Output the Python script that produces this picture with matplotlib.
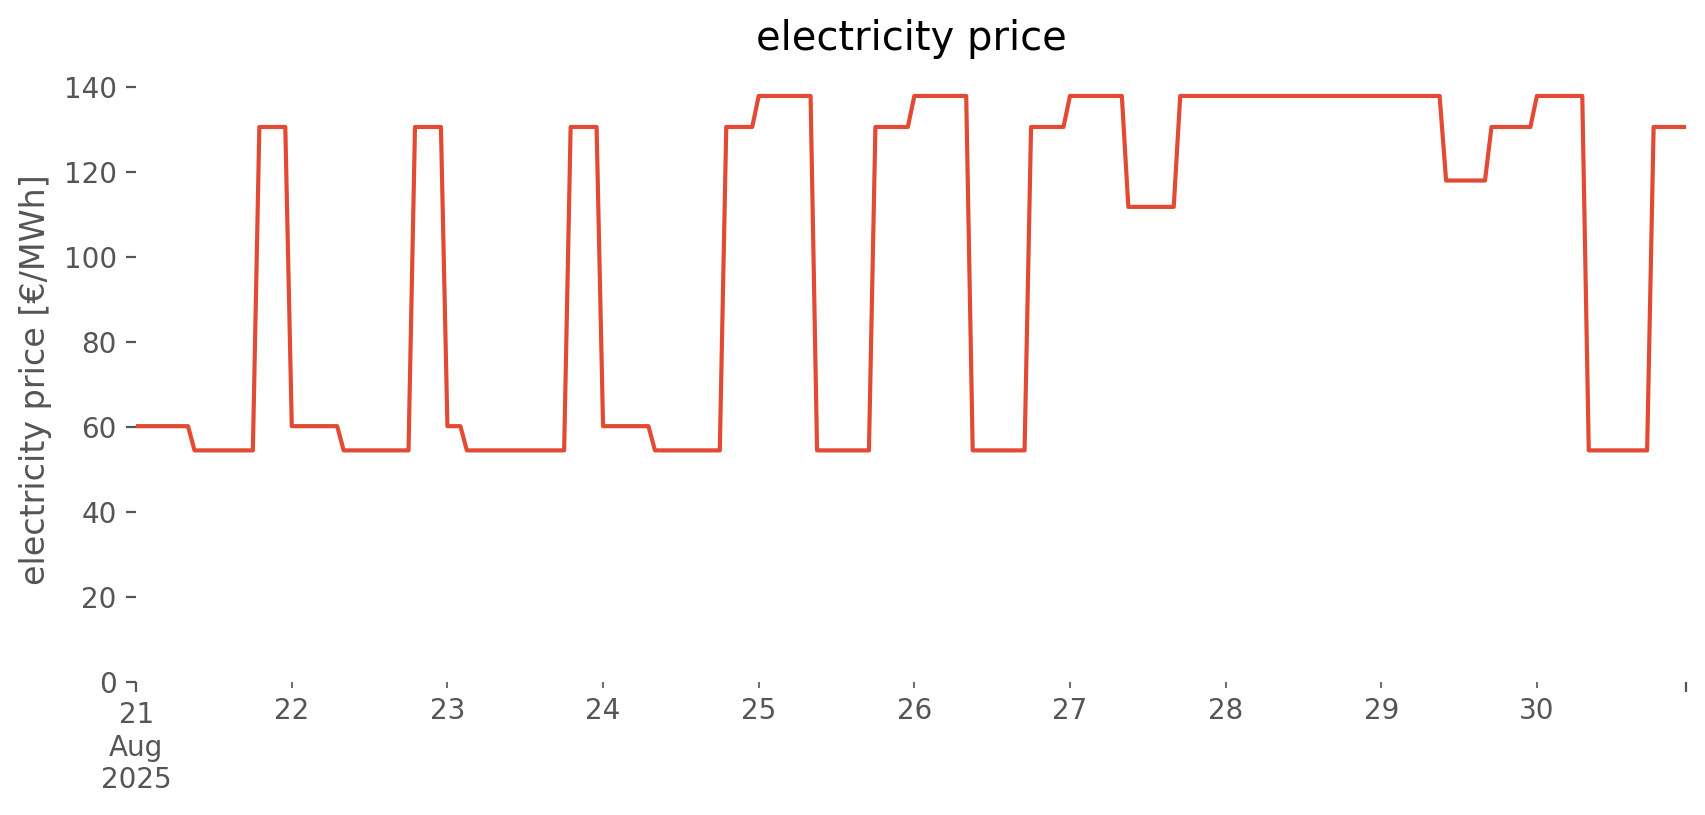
"""Electricity price over ten days, hourly resolution."""
import matplotlib
matplotlib.use("Agg")
import pandas as pd
from matplotlib import pyplot as plt

plt.style.use("ggplot")

# Hourly prices [EUR/MWh], one list per day (00:00 .. 23:00)
first_hour = "2025-08-21 00:00"
day_21 = [60.2, 60.2, 60.2, 60.2, 60.2, 60.2, 60.2, 60.2, 60.2, 54.5, 54.5, 54.5,
          54.5, 54.5, 54.5, 54.5, 54.5, 54.5, 54.5, 130.6, 130.6, 130.6, 130.6, 130.6]
day_22 = [60.2, 60.2, 60.2, 60.2, 60.2, 60.2, 60.2, 60.2, 54.5, 54.5, 54.5, 54.5,
          54.5, 54.5, 54.5, 54.5, 54.5, 54.5, 54.5, 130.6, 130.6, 130.6, 130.6, 130.6]
day_23 = [60.2, 60.2, 60.2, 54.5, 54.5, 54.5, 54.5, 54.5, 54.5, 54.5, 54.5, 54.5,
          54.5, 54.5, 54.5, 54.5, 54.5, 54.5, 54.5, 130.6, 130.6, 130.6, 130.6, 130.6]
day_24 = [60.2, 60.2, 60.2, 60.2, 60.2, 60.2, 60.2, 60.2, 54.5, 54.5, 54.5, 54.5,
          54.5, 54.5, 54.5, 54.5, 54.5, 54.5, 54.5, 130.6, 130.6, 130.6, 130.6, 130.6]
day_25 = [137.9, 137.9, 137.9, 137.9, 137.9, 137.9, 137.9, 137.9, 137.9, 54.5, 54.5, 54.5,
          54.5, 54.5, 54.5, 54.5, 54.5, 54.5, 130.6, 130.6, 130.6, 130.6, 130.6, 130.6]
day_26 = [137.9, 137.9, 137.9, 137.9, 137.9, 137.9, 137.9, 137.9, 137.9, 54.5, 54.5, 54.5,
          54.5, 54.5, 54.5, 54.5, 54.5, 54.5, 130.6, 130.6, 130.6, 130.6, 130.6, 130.6]
day_27 = [137.9, 137.9, 137.9, 137.9, 137.9, 137.9, 137.9, 137.9, 137.9, 111.8, 111.8, 111.8,
          111.8, 111.8, 111.8, 111.8, 111.8, 137.9, 137.9, 137.9, 137.9, 137.9, 137.9, 137.9]
day_28 = [137.9, 137.9, 137.9, 137.9, 137.9, 137.9, 137.9, 137.9, 137.9, 137.9, 137.9, 137.9,
          137.9, 137.9, 137.9, 137.9, 137.9, 137.9, 137.9, 137.9, 137.9, 137.9, 137.9, 137.9]
day_29 = [137.9, 137.9, 137.9, 137.9, 137.9, 137.9, 137.9, 137.9, 137.9, 137.9, 118.0, 118.0,
          118.0, 118.0, 118.0, 118.0, 118.0, 130.6, 130.6, 130.6, 130.6, 130.6, 130.6, 130.6]
day_30 = [137.9, 137.9, 137.9, 137.9, 137.9, 137.9, 137.9, 137.9, 54.5, 54.5, 54.5, 54.5,
          54.5, 54.5, 54.5, 54.5, 54.5, 54.5, 130.6, 130.6, 130.6, 130.6, 130.6, 130.6]

days = [day_21, day_22, day_23, day_24, day_25, day_26, day_27, day_28, day_29, day_30]
prices = [p for day in days for p in day]
index = pd.date_range(first_hour, periods=len(prices), freq="h")
price = pd.Series(prices, index=index)

fig, ax = plt.subplots(figsize=(8.53, 4.075), dpi=200)
fig.subplots_adjust(left=0.0798, right=0.9883, bottom=0.1632, top=0.904)
ax.set_facecolor("white")

price.plot(ax=ax, color="#E24A33", lw=1.5)

ax.set_ylim(bottom=0)
ax.set_title("electricity price", pad=10)
ax.set_ylabel("electricity price [€/MWh]")
ax.set_xlabel("")
ax.grid(False)
for side in ["left", "right", "top", "bottom"]:
    ax.spines[side].set_visible(False)

fig.savefig("out.png", dpi=200)
plt.close(fig)
